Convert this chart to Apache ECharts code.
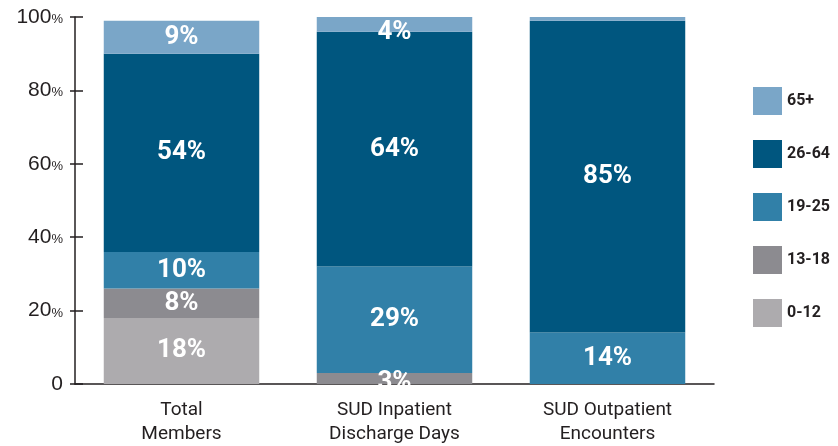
<!DOCTYPE html>
<html>
<head>
<meta charset="utf-8">
<script src="https://cdn.jsdelivr.net/npm/echarts@6/dist/echarts.min.js"></script>
<style>
  html, body { margin: 0; padding: 0; background: #fff; }
  #chart { width: 838px; height: 446px; }
</style>
</head>
<body>
<div id="chart"></div>
<script>
// categories and age groups
const categories = ["Total\nMembers", "SUD Inpatient\nDischarge Days", "SUD Outpatient\nEncounters"];
const ageGroups = ["0-12", "13-18", "19-25", "26-64", "65+"];
const legendOrder = ["65+", "26-64", "19-25", "13-18", "0-12"];
const yTicks = [0, 20, 40, 60, 80, 100];

// percentage share per age group
const age0to12 = [18, 0, 0];
const age13to18 = [8, 3, 0];
const age19to25 = [10, 29, 14];
const age26to64 = [54, 64, 85];
const age65plus = [9, 4, 1];

const seriesValues = [age0to12, age13to18, age19to25, age26to64, age65plus];
const colors = ["#adabae", "#8c8b90", "#3180a8", "#00567f", "#7aa6c8"];

const chart = echarts.init(document.getElementById("chart"));

const labelFont = "Roboto, 'Liberation Sans', sans-serif";

const series = ageGroups.map((name, i) => ({
    name: name,
    type: "bar",
    stack: "total",
    barWidth: "73%",
    itemStyle: { color: colors[i] },
    data: seriesValues[i].map((v) => ({
        value: v,
        // small slices: label hangs over the edge like the original
        label: { show: v >= 3, offset: v < 5 ? [0, i === 4 ? 8 : 4] : [0, 0] },
    })),
    label: {
        position: "inside",
        color: "#fff",
        fontFamily: labelFont,
        fontWeight: "bold",
        fontSize: 26,
        formatter: (p) => p.value + "%",
    },
}));

const option = {
    animation: false,
    grid: { left: 75, right: 124, top: 17, bottom: 61 },
    legend: {
        data: legendOrder,
        orient: "vertical",
        left: 753,
        top: 87,
        padding: 0,
        itemWidth: 29,
        itemHeight: 28,
        itemGap: 25,
        icon: "rect",
        textStyle: {
            fontFamily: labelFont,
            fontWeight: "bold",
            fontSize: 16,
            color: "#231f20",
        },
    },
    xAxis: {
        type: "category",
        data: categories,
        axisTick: { show: false },
        axisLine: { lineStyle: { color: "#231f20", width: 1.5 } },
        axisLabel: {
            color: "#231f20",
            fontFamily: labelFont,
            fontSize: 19,
            lineHeight: 24,
            margin: 14,
        },
    },
    yAxis: [
        {
            type: "value",
            min: 0,
            max: 100,
            interval: 20,
            splitLine: { show: false },
            axisLine: { show: true, lineStyle: { color: "#231f20", width: 1.5 } },
            axisTick: { show: true, length: 5, lineStyle: { color: "#231f20", width: 1.5 } },
            axisLabel: {
                margin: 12,
                formatter: (v) => (yTicks.includes(v) && v !== 0 ? "{a|" + v + "}{b|%}" : "{a|0}"),
                rich: {
                    a: { fontFamily: "'Liberation Sans', Arial, sans-serif", fontSize: 21, color: "#231f20" },
                    b: { fontFamily: "'Liberation Sans', Arial, sans-serif", fontSize: 13, color: "#231f20", padding: [5, 0, 0, 0] },
                },
            },
        },
        {
            type: "value",
            min: 0,
            max: 100,
            interval: 20,
            position: "left",
            splitLine: { show: false },
            axisLine: { show: false },
            axisLabel: { show: false },
            axisTick: { show: true, inside: true, length: 8, lineStyle: { color: "#231f20", width: 1.5 } },
        },
    ],
    series: series,
};

chart.setOption(option);
</script>
</body>
</html>
